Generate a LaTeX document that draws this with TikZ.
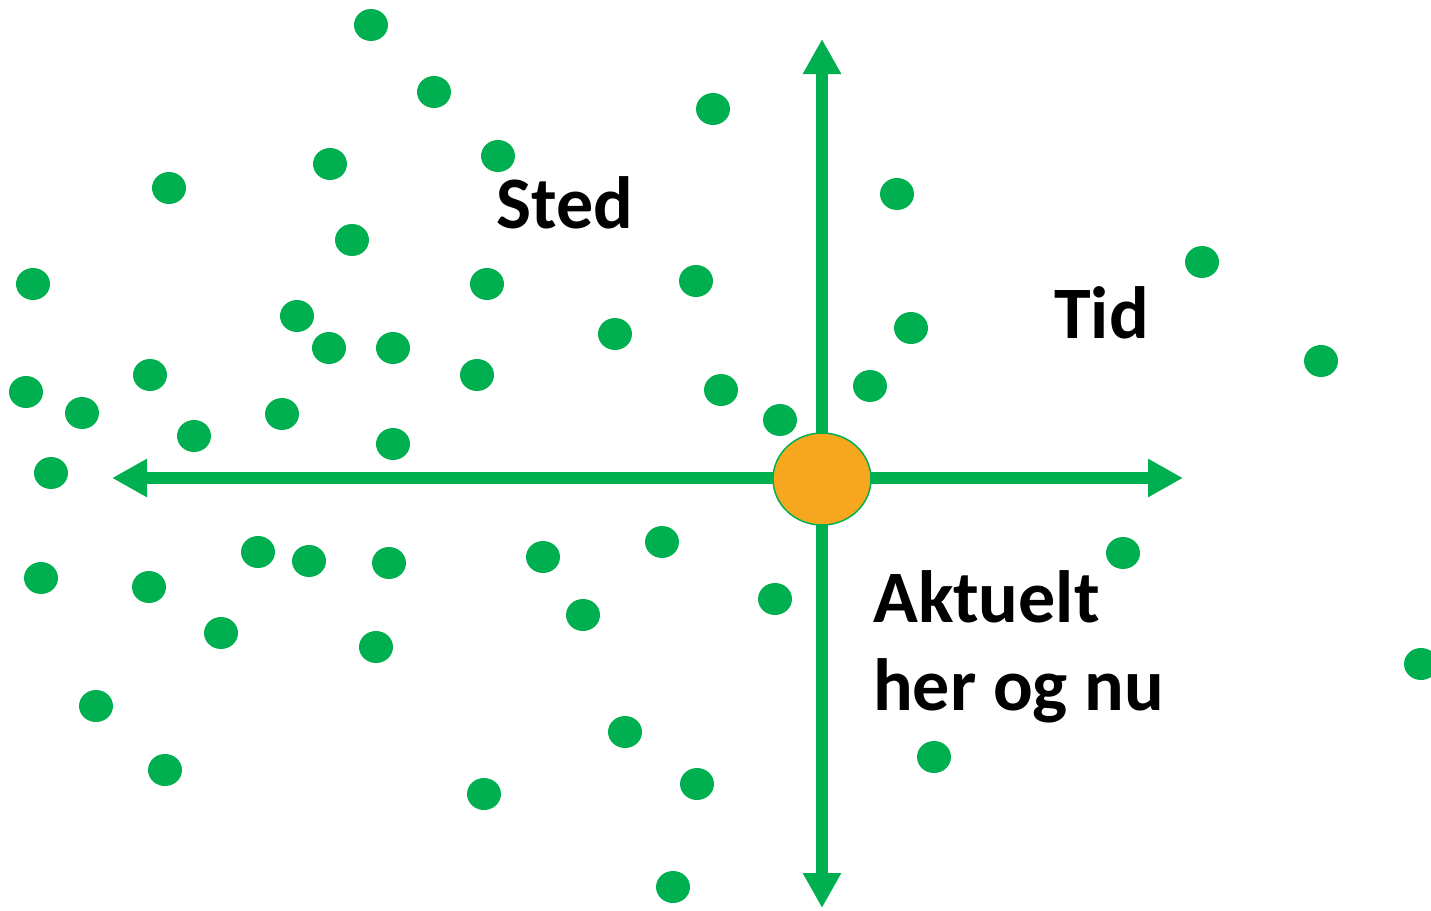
\documentclass[tikz,border=0pt]{standalone}
\usepackage{fontspec}
\setmainfont{Carlito}
\usetikzlibrary{arrows.meta,shapes.geometric}
\definecolor{dotgreen}{HTML}{00B050}
\definecolor{sunorange}{HTML}{F7A71E}
\begin{document}
\begin{tikzpicture}[x=1pt,y=-1pt,
  dot/.style={ellipse,fill=dotgreen,minimum width=34pt,minimum height=32pt,inner sep=0pt},
  axis/.style={draw=dotgreen,line width=12pt,{Triangle[width=36pt,length=35pt]}-{Triangle[width=36pt,length=35pt]},dotgreen},
  lbl/.style={anchor=base west,inner sep=0pt,font=\fontsize{74}{88}\selectfont\bfseries}
]
\useasboundingbox (0,0) rectangle (1431,910);
% dots
\foreach \x/\y [count=\i] in {371/25,434/92,713/109,330/164,498/156,169/188,897/194,352/240,33/284,487/284,696/281,1202/262,297/316,911/328,329/348,393/348,615/334,150/375,477/375,1321/361,26/392,82/413,282/414,721/390,870/386,194/436,780/420,393/444,51/473,258/552,309/561,389/563,543/557,662/542,1123/553,41/578,149/587,583/615,775/599,221/633,376/647,1421/664,96/706,625/732,934/757,165/770,484/794,697/784,673/887}
  \node[dot] (d\i) at (\x,\y) {};
% axes
\coordinate (top) at (822,39);
\coordinate (bot) at (822,908);
\coordinate (lft) at (112,478);
\coordinate (rgt) at (1183,478);
\draw[axis] (top) -- (bot);
\draw[axis] (lft) -- (rgt);
% center
\node[ellipse,draw=dotgreen,line width=1.5pt,fill=sunorange,minimum width=98pt,minimum height=92pt,inner sep=0pt] (c) at (822,479) {};
% labels
\node[lbl] (sted) at (496,228) {Sted};
\node[lbl] (tid) at (1054,338) {Tid};
\node[lbl] (akt) at (873,622) {Aktuelt};
\node[lbl] (her) at (873,710) {her og nu};
\end{tikzpicture}
\end{document}
